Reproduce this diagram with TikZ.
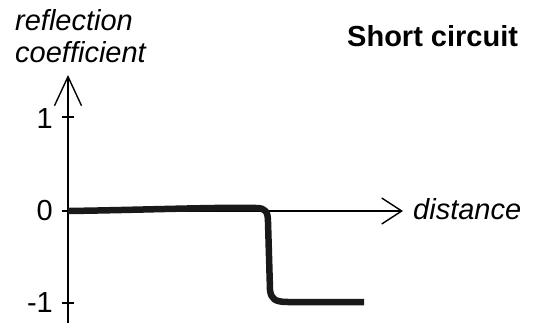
\documentclass[tikz,border=0pt]{standalone}
\usepackage{fontspec}
\setmainfont{Liberation Sans}
\usetikzlibrary{arrows.meta}

\tikzset{
  axis/.style={line width=1.4pt},
  tickline/.style={line width=1.4pt},
  curve/.style={line width=6.5pt, line cap=butt, line join=round, black!90},
  lbl/.style={inner sep=0pt, font=\fontsize{29}{33}\selectfont},
}

\begin{document}
\begin{tikzpicture}[x=1pt,y=-1pt]
		\useasboundingbox (0,0) rectangle (537,326);

		%%% AXES
		\coordinate (origin) at (68,211);
		\coordinate (ybot) at (68,323);
		\coordinate (ytop) at (68,75);
		\coordinate (xend) at (403,211);
		\draw[axis, -{Straight Barb[length=29pt,width=27pt]}] (ybot) -- (ytop);
		\draw[axis, -{Straight Barb[length=20pt,width=26pt]}] (origin) -- (xend);

		%%% TICKS
		\foreach \name/\y in {one/117, zero/211, minusone/303}{
			\coordinate (t\name) at (68,\y);
			\draw[tickline] ([xshift=-6pt]t\name) -- ([xshift=6pt]t\name);
		}

		%%% LABELS
		\node[lbl, anchor=base west] (ylabelA) at (15,31) {\itshape reflection};
		\node[lbl, anchor=base west] (ylabelB) at (15,63) {\itshape coefficient};
		\node[lbl, anchor=base east] (lone) at (53,128) {1};
		\node[lbl, anchor=base east] (lzero) at (53,220) {0};
		\node[lbl, anchor=base east] (lminus) at (53,312) {-1};
		\node[lbl, anchor=base west] (xlabel) at (413,219) {\itshape distance};
		\node[lbl, anchor=base west] (title) at (347,47) {\bfseries Short circuit};

		%%% CURVE
		\coordinate (bend) at (268,222);
		\coordinate (foot) at (270,290);
		\coordinate (cend) at (364,302);
		\draw[curve] (origin) .. controls (140,210) and (220,207) .. (256,208)
			.. controls (265,208) and (268,211) .. (bend) -- (foot)
			.. controls (271,299) and (275,302) .. (288,302) -- (cend);
\end{tikzpicture}
\end{document}
